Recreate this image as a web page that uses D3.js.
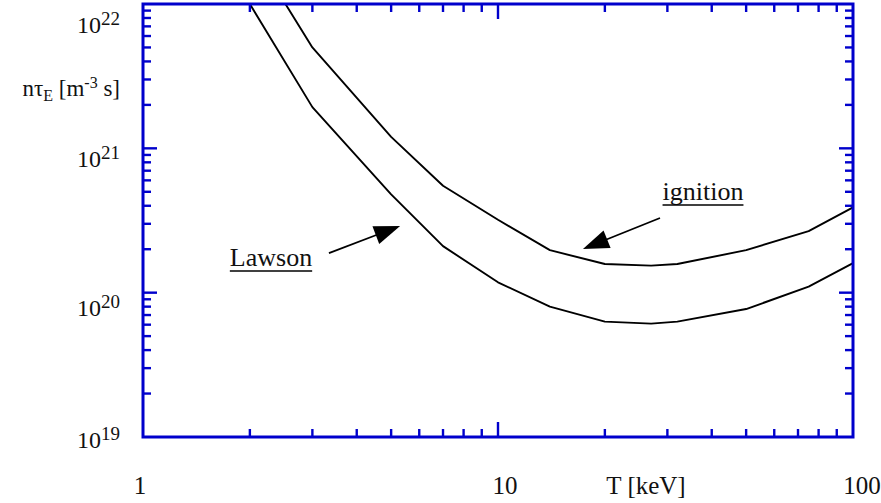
<!DOCTYPE html>
<html>
<head>
<meta charset="utf-8">
<script src="https://cdn.jsdelivr.net/npm/d3@7"></script>
<style>
  html, body { margin: 0; padding: 0; background: #fff; }
  svg { display: block; }
  text { font-family: "Liberation Serif", "Times New Roman", serif; fill: #111; }
</style>
</head>
<body>
<svg id="chart" width="881" height="503"></svg>
<script>
// ---- data ----
const temperatureKeV = [2, 3, 5, 7, 10, 14, 20, 27, 32, 50, 75, 100];
const lawsonValues   = [1.0e22, 1.93e21, 4.8e20, 2.1e20, 1.18e20, 8.0e19, 6.3e19, 6.1e19, 6.3e19, 7.7e19, 1.1e20, 1.6e20];
const ignitionValues = [2.5e22, 5.0e21, 1.2e21, 5.5e20, 3.2e20, 1.97e20, 1.58e20, 1.54e20, 1.58e20, 1.97e20, 2.67e20, 3.9e20];
const xTickLabels = ["1", "10", "100"];
const yTickExponents = ["22", "21", "20", "19"];
const xTitle = "T [keV]";
const annotations = [
  { label: "Lawson",   tip: [5.3, 2.9e20],   tail: [3.34, 1.88e20] },
  { label: "ignition", tip: [17.35, 2.01e20], tail: [28.6, 3.29e20] }
];

// ---- layout ----
const svg = d3.select("#chart");
const L = 143, R = 853, T0 = 4, B = 437;
const x = d3.scaleLog().domain([1, 100]).range([L, R]);
const y = d3.scaleLog().domain([1e19, 1e22]).range([B, T0]);
const blue = "#0000cc";

svg.append("defs").append("clipPath").attr("id", "clip")
  .append("rect").attr("x", L).attr("y", T0).attr("width", R - L).attr("height", B - T0);

// curves
const line = d3.line().x(d => x(d[0])).y(d => y(d[1]));
[lawsonValues, ignitionValues].forEach(vals => {
  svg.append("path")
    .attr("clip-path", "url(#clip)")
    .attr("d", line(temperatureKeV.map((t, i) => [t, vals[i]])))
    .attr("fill", "none").attr("stroke", "#000").attr("stroke-width", 1.9)
    .attr("stroke-linejoin", "round");
});

// ticks
const isMajor = v => Math.abs(Math.log10(v) - Math.round(Math.log10(v))) < 1e-9;
const yt = y.ticks().filter(v => v > 1e19 && v < 1e22);
const xt = x.ticks().filter(v => v > 1 && v < 100);
const tickG = svg.append("g").attr("stroke", blue).attr("stroke-width", 2.4);
yt.forEach(v => {
  const len = isMajor(v) ? 14 : 8;
  tickG.append("line").attr("x1", L).attr("x2", L + len).attr("y1", y(v)).attr("y2", y(v));
  tickG.append("line").attr("x1", R).attr("x2", R - len).attr("y1", y(v)).attr("y2", y(v));
});
xt.forEach(v => {
  const len = isMajor(v) ? 15 : 8;
  tickG.append("line").attr("y1", B).attr("y2", B - len).attr("x1", x(v)).attr("x2", x(v));
  tickG.append("line").attr("y1", T0).attr("y2", T0 + len).attr("x1", x(v)).attr("x2", x(v));
});

// frame
svg.append("rect").attr("x", L).attr("y", T0).attr("width", R - L).attr("height", B - T0)
  .attr("fill", "none").attr("stroke", blue).attr("stroke-width", 3);

// y tick labels (10^n)
const yLabelBaseline = { "22": 33, "21": 167, "20": 316, "19": 448 };
yTickExponents.forEach(e => {
  const t = svg.append("text").attr("x", 120).attr("y", yLabelBaseline[e])
    .attr("text-anchor", "end").attr("font-size", 24);
  t.append("tspan").text("10");
  t.append("tspan").attr("font-size", 19).attr("dy", -8).text(e);
});

// y title
const yt2 = svg.append("text").attr("x", 120).attr("y", 96).attr("text-anchor", "end").attr("font-size", 23);
yt2.append("tspan").text("nτ");
yt2.append("tspan").attr("font-size", 16).attr("dy", 5).text("E");
yt2.append("tspan").attr("dy", -5).text(" [m");
yt2.append("tspan").attr("font-size", 16).attr("dy", -8).text("-3");
yt2.append("tspan").attr("dy", 8).text(" s]");

// x tick labels
const xLabelCenter = { "1": 140, "10": 505, "100": 862 };
xTickLabels.forEach(s => {
  svg.append("text").attr("x", xLabelCenter[s]).attr("y", 494)
    .attr("text-anchor", "middle").attr("font-size", 25).text(s);
});
svg.append("text").attr("x", 646).attr("y", 494).attr("text-anchor", "middle")
  .attr("font-size", 25).text(xTitle);

// annotations
const lawsonLabelPos = { x: 271, y: 266 };
const ignitionLabelPos = { x: 703, y: 200 };
annotations.forEach((a, i) => {
  const pos = i === 0 ? lawsonLabelPos : ignitionLabelPos;
  const txt = svg.append("text").attr("x", pos.x).attr("y", pos.y)
    .attr("text-anchor", "middle").attr("font-size", 26).text(a.label);
  const bb = txt.node().getBBox();
  svg.append("line").attr("x1", bb.x).attr("x2", bb.x + bb.width)
    .attr("y1", pos.y + 5).attr("y2", pos.y + 5).attr("stroke", "#000").attr("stroke-width", 1.6);
  const tx = x(a.tip[0]), ty = y(a.tip[1]);
  const sx = x(a.tail[0]), sy = y(a.tail[1]);
  const dx = tx - sx, dy = ty - sy, d = Math.hypot(dx, dy);
  const ux = dx / d, uy = dy / d;
  const hl = 26, hw = 9.5;
  const bx = tx - ux * hl, by = ty - uy * hl;
  svg.append("line").attr("x1", sx).attr("y1", sy).attr("x2", bx + ux * 2).attr("y2", by + uy * 2)
    .attr("stroke", "#000").attr("stroke-width", 1.8);
  svg.append("path")
    .attr("d", `M${tx},${ty}L${bx - uy * hw},${by + ux * hw}L${bx + uy * hw},${by - ux * hw}Z`)
    .attr("fill", "#000");
});
</script>
</body>
</html>
